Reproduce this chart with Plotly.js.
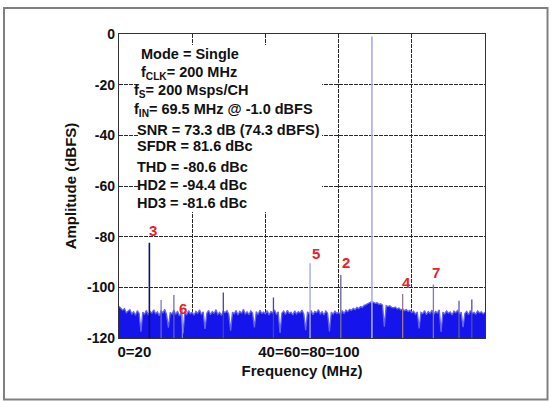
<!DOCTYPE html>
<html><head><meta charset="utf-8">
<script src="https://cdn.plot.ly/plotly-3.0.1.min.js"></script>
<style>html,body{margin:0;padding:0;background:#fff;}#chart{width:551px;height:401px;}</style>
</head><body><div id="chart"></div>
<script>
// ---- data ----
const noiseStart = 0;      // MHz, first bin
const noiseStep = 0.5;     // MHz per bin
const noiseAmp = [
 -107.5,-108.2,-109.0,-108.4,-110.1,-109.3,-108.8,-110.5,-109.6,-111.0,
 -109.2,-110.3,-117.5,-109.8,-110.6,-109.1,-110.9,-109.5,-110.2,-108.9,
 -110.4,-109.7,-111.2,-109.3,-110.0,-108.7,-110.8,-115.9,-109.9,-110.5,
 -109.0,-110.7,-109.4,-111.3,-110.1,-118.2,-109.6,-110.9,-109.2,-110.4,
 -109.8,-111.0,-109.5,-110.3,-108.9,-110.6,-109.7,-116.4,-110.2,-109.1,
 -110.8,-109.6,-110.3,-108.8,-110.7,-109.9,-111.1,-109.4,-110.0,-109.2,
 -110.6,-117.1,-109.8,-110.4,-109.1,-110.9,-109.5,-110.2,-108.7,-110.5,
 -109.7,-110.8,-109.3,-110.1,-115.8,-109.6,-110.7,-109.0,-110.3,-109.8,
 -110.4,-109.2,-110.9,-109.5,-110.1,-108.9,-110.6,-109.7,-118.0,-110.2,
 -109.4,-110.7,-109.1,-110.3,-109.8,-110.9,-109.3,-110.5,-109.6,-110.1,
 -109.0,-110.6,-116.9,-109.7,-110.4,-109.2,-110.8,-109.5,-110.0,-108.8,
 -110.5,-109.6,-110.9,-109.3,-110.2,-117.4,-109.8,-110.6,-109.4,-110.3,
 -109.9,-110.7,-109.2,-110.4,-109.0,-109.6,-108.7,-109.1,-108.3,-108.8,
 -107.9,-108.4,-107.6,-107.9,-107.1,-106.8,-106.4,-106.0,-105.7,-105.9,
 -106.3,-106.1,-106.7,-106.5,-107.0,-115.5,-107.2,-107.6,-107.3,-107.9,
 -108.1,-107.8,-108.5,-108.2,-108.9,-108.6,-109.2,-108.8,-109.5,-109.1,
 -110.0,-109.4,-110.6,-109.7,-116.2,-109.9,-110.4,-109.2,-110.8,-109.6,
 -110.3,-109.0,-110.7,-109.5,-110.1,-108.9,-117.6,-109.8,-110.5,-109.3,
 -110.2,-109.7,-110.9,-109.4,-110.0,-109.1,-110.6,-109.8,-115.7,-110.3,
 -109.5,-110.8,-109.2,-110.4,-109.9,-110.6,-109.3,-110.1,-109.7,-110.5,-109.8
];
const spurFreq  = [69.1, 8.3, 52.2, 60.6, 77.5, 85.9, 17.3, 11.5, 15.0, 28.5, 42.2, 92.9, 96.4];
const spurAmp   = [-1.0, -82.4, -90.5, -95.1, -102.6, -98.9, -108.5, -105.0, -103.0, -102.0, -104.0, -105.3, -104.8];
const spurLabel = ['', '3', '5', '2', '4', '7', '6', '', '', '', '', '', ''];
const yTickVals = [0, -20, -40, -60, -80, -100, -120];
const yTickText = ['0', '-20', '-40', '-60', '-80', '-100', '-120'];
const xGridVals = [0, 20, 40, 60, 80, 100];
const xTickPos  = [4.2, 51.9];
const xTickText = ['0=20', '40=60=80=100'];
const infoLines = [
 'Mode = Single',
 'f<sub>CLK</sub>= 200 MHz',
 'f<sub>S</sub>= 200 Msps/CH',
 'f<sub>IN</sub>= 69.5 MHz @ -1.0 dBFS',
 'SNR = 73.3 dB (74.3 dBFS)',
 'SFDR = 81.6 dBc',
 'THD = -80.6 dBc',
 'HD2 = -94.4 dBc',
 'HD3 = -81.6 dBc'
];

// ---- styles / positions (not data) ----
const spurColor = ['rgb(170,170,235)','rgb(15,15,120)','rgb(170,170,230)','rgb(110,110,150)',
  'rgb(150,120,140)','rgb(130,120,170)','rgb(150,150,200)','rgb(110,110,190)','rgb(100,100,180)',
  'rgb(70,70,150)','rgb(70,70,160)','rgb(90,90,170)','rgb(80,80,160)'];
const spurWidth = [1.6,1.6,1.4,1.4,1.3,1.3,1,1.2,1.2,1.3,1.3,1.3,1.3];
const labelShift = {'3':[4,12.7],'5':[6,10],'2':[5,12],'4':[4,11],'7':[3,12],'6':[1,0]};
const infoPos = [[0.061,0.9332],[0.059,0.8727],[0.041,0.8135],[0.041,0.75],[0.050,0.6842],
  [0.050,0.6316],[0.050,0.5635],[0.050,0.5043],[0.050,0.4431]];

const FONT = 'Liberation Sans, Arial, sans-serif';
const GRID = 'rgb(40,40,40)';
const traces = [];
traces.push({x:[0,100], y:[-120,-120], mode:'lines', line:{width:0, color:'rgba(0,0,0,0)'},
  hoverinfo:'skip', showlegend:false});
traces.push({x: noiseAmp.map((_, i) => noiseStart + i * noiseStep), y: noiseAmp,
  mode:'lines', fill:'tonexty', fillcolor:'rgb(20,20,235)',
  line:{color:'rgb(100,100,240)', width:1.3}, showlegend:false});
spurFreq.forEach((f, i) => {
  traces.push({x:[f, f], y:[-120, spurAmp[i]], mode:'lines',
    line:{color: spurColor[i], width: spurWidth[i]}, showlegend:false});
});

const annotations = [];
infoLines.forEach((t, i) => {
  annotations.push({text: t, xref:'paper', yref:'paper', x: infoPos[i][0], y: infoPos[i][1],
    xanchor:'left', yanchor:'middle', showarrow:false, borderpad:0, borderwidth:0,
    font:{family: FONT, size:14.5, color:'#111', weight:'bold'}});
});
spurLabel.forEach((t, i) => {
  if (!t) return;
  const s = labelShift[t];
  annotations.push({text: t, xref:'x', yref:'y', x: spurFreq[i], y: spurAmp[i],
    xshift: s[0], yshift: s[1], xanchor:'center', yanchor:'middle', showarrow:false,
    font:{family: FONT, size:15, color:'rgb(230,35,40)', weight:'bold'}});
});

const layout = {
  width: 551, height: 401,
  margin: {l:119, r:66, t:34, b:63},
  paper_bgcolor:'#fff', plot_bgcolor:'#fff',
  showlegend:false,
  font:{family: FONT, color:'#111'},
  xaxis: {range:[0,100], tickmode:'array', tickvals: xTickPos, ticktext: xTickText,
    showgrid:false, zeroline:false, ticks:'', showline:true, mirror:true,
    linecolor:'#333', linewidth:1.2,
    tickfont:{family: FONT, size:15, color:'#111', weight:'bold'},
    minor:{tickmode:'array', tickvals: xGridVals, showgrid:true, gridcolor: GRID,
      griddash:'4px,1px', gridwidth:1, ticks:''},
    title:{text:'Frequency (MHz)', font:{family: FONT, size:15, color:'#111', weight:'bold'}, standoff:6},
    automargin:false},
  yaxis: {range:[-120,0], tickmode:'array', tickvals: yTickVals, ticktext: yTickText,
    showgrid:true, gridcolor: GRID, griddash:'4px,1px', gridwidth:1,
    zeroline:false, ticks:'', showline:true, mirror:true, linecolor:'#333', linewidth:1.2,
    tickfont:{family: FONT, size:14, color:'#111', weight:'bold'},
    title:{text:'Amplitude (dBFS)', font:{family: FONT, size:15, color:'#111', weight:'bold'}, standoff:6},
    automargin:false},
  shapes: [
    {type:'rect', xref:'paper', yref:'paper', x0:0.052, x1:0.5546, y0:0.4145, y1:0.9638,
      fillcolor:'#fff', line:{width:0}, layer:'above'},
    {type:'rect', xref:'paper', yref:'paper', x0:-0.3142, x1:1.1708, y0:-0.2023, y1:1.0855,
      fillcolor:'rgba(0,0,0,0)', line:{color:'rgb(128,128,128)', width:2}, layer:'above'}
  ],
  annotations: annotations
};
Plotly.newPlot('chart', traces, layout, {displayModeBar:false, staticPlot:true});
</script>
</body></html>
